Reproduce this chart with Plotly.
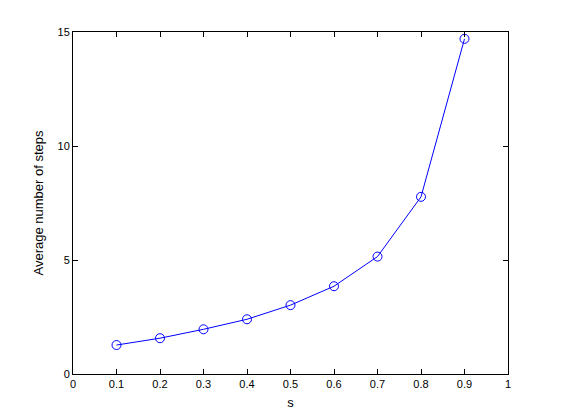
import plotly.graph_objects as go

s_values = [0.1, 0.2, 0.3, 0.4, 0.5, 0.6, 0.7, 0.8, 0.9]
avg_steps = [1.27, 1.57, 1.96, 2.40, 3.02, 3.85, 5.15, 7.77, 14.70]
x_ticks = [0, 0.1, 0.2, 0.3, 0.4, 0.5, 0.6, 0.7, 0.8, 0.9, 1]
x_tick_labels = ["0", "0.1", "0.2", "0.3", "0.4", "0.5", "0.6", "0.7", "0.8", "0.9", "1"]
y_ticks = [0, 5, 10, 15]

fig = go.Figure()
fig.add_trace(go.Scatter(
    x=s_values, y=avg_steps, mode="lines+markers",
    line=dict(color="#0000ff", width=1),
    marker=dict(symbol="circle-open", size=9, color="#0000ff", line=dict(width=1)),
))

axis_common = dict(
    showgrid=False, zeroline=False, showline=True, linecolor="black", linewidth=1,
    mirror="ticks", ticks="inside", ticklen=5, tickcolor="black",
    tickfont=dict(family="Liberation Sans, Arial, sans-serif", size=11, color="black"),
)

fig.update_layout(
    width=553, height=412,
    margin=dict(l=65, r=53, t=24, b=46),
    paper_bgcolor="white", plot_bgcolor="white",
    showlegend=False,
    font=dict(family="Liberation Sans, Arial, sans-serif", size=11, color="black"),
    xaxis=dict(range=[0, 1], tickvals=x_ticks, ticktext=x_tick_labels,
               title=dict(text="s", standoff=8), **axis_common),
    yaxis=dict(range=[0, 15], tickvals=y_ticks,
               title=dict(text="Average number of steps", standoff=10), **axis_common),
)

fig.write_html("out.html")
